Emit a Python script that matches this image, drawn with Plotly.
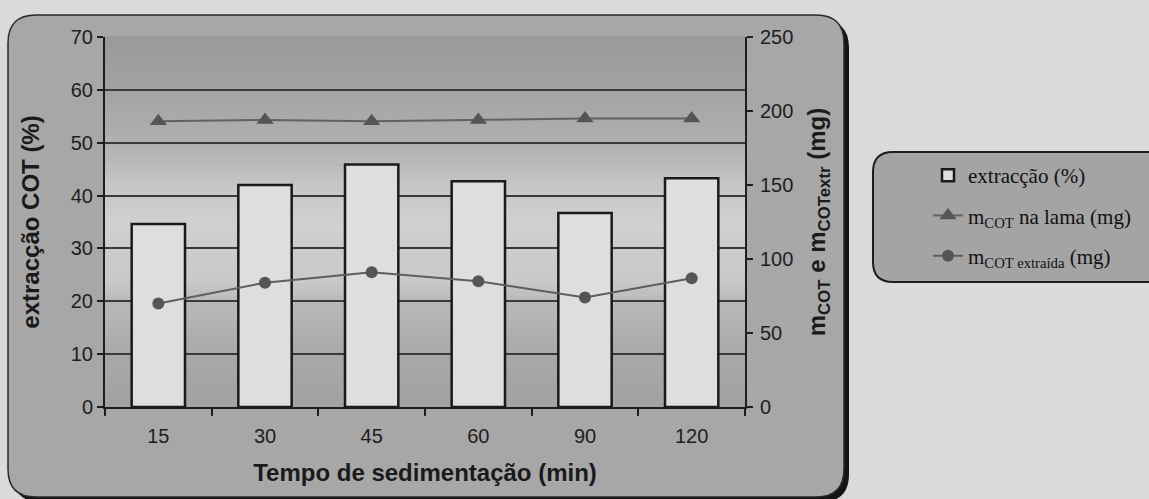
import plotly.graph_objects as go

# Sedimentation time categories (min)
tempos = ["15", "30", "45", "60", "90", "120"]
# Extraction yield of TOC (%)
extraccao = [34.6, 42.0, 45.9, 42.7, 36.7, 43.3]
# TOC mass in the sludge (mg)
m_cot_lama = [193, 194, 193, 194, 195, 195]
# TOC mass extracted (mg)
m_cot_extraida = [70, 84, 91, 85, 74, 87]

W, H = 1149, 499
ML, MR, MT, MB = 105, 404, 37, 92
PW, PH = W - ML - MR, H - MT - MB


def px(x):
    return (x - ML) / PW


def py(y):
    return (H - MB - y) / PH


def rounded_path(x0, y0, x1, y1, r):
    rx, ry = r / PW, r / PH
    a0, a1 = px(x0), px(x1)
    b0, b1 = py(y0), py(y1)
    return (
        f"M{a0 + rx},{b0} L{a1 - rx},{b0} Q{a1},{b0} {a1},{b0 - ry} "
        f"L{a1},{b1 + ry} Q{a1},{b1} {a1 - rx},{b1} "
        f"L{a0 + rx},{b1} Q{a0},{b1} {a0},{b1 + ry} "
        f"L{a0},{b0 - ry} Q{a0},{b0} {a0 + rx},{b0} Z"
    )


def hexmix(c0, c1, t):
    return "#" + "".join(
        f"{round(int(c0[i:i + 2], 16) * (1 - t) + int(c1[i:i + 2], 16) * t):02x}"
        for i in (1, 3, 5)
    )


shapes = []
# chart frame with dark drop shadow
shapes.append(dict(type="path", xref="paper", yref="paper", layer="below",
                   path=rounded_path(13, 20, 849, 502, 28),
                   fillcolor="#141414", line=dict(width=0)))
shapes.append(dict(type="path", xref="paper", yref="paper", layer="below",
                   path=rounded_path(8, 15, 844, 497, 28),
                   fillcolor="#a7a7a7", line=dict(color="#2a2a2a", width=1.5)))

# vertical gradient of the plotting area
stops = [(0.0, "#a2a2a2"), (0.14, "#a8a8a8"), (0.28, "#b8b8b8"),
         (0.34, "#c9c9c9"), (0.5, "#d0d0d0"), (0.6, "#c6c6c6"),
         (0.7, "#b2b2b2"), (0.85, "#a3a3a3"), (1.0, "#999999")]
N = 60
for i in range(N):
    t = (i + 0.5) / N
    for j in range(len(stops) - 1):
        if stops[j][0] <= t <= stops[j + 1][0]:
            f = (t - stops[j][0]) / (stops[j + 1][0] - stops[j][0])
            col = hexmix(stops[j][1], stops[j + 1][1], f)
            break
    shapes.append(dict(type="rect", xref="paper", yref="paper", layer="below",
                       x0=0, x1=1, y0=i / N, y1=(i + 1) / N + 0.002,
                       fillcolor=col, line=dict(width=0)))

# rounded legend box
shapes.append(dict(type="path", xref="paper", yref="paper", layer="below",
                   path=rounded_path(873, 152, 1175, 282, 20),
                   fillcolor="#a4a4a4", line=dict(color="#1e1e1e", width=2)))

fig = go.Figure()
fig.add_trace(go.Bar(
    x=tempos, y=extraccao, name="extracção (%)", width=0.5,
    marker=dict(color="#dedede", line=dict(color="#1a1a1a", width=2.5)),
    legendgroup="a", yaxis="y",
))
fig.add_trace(go.Scatter(
    x=tempos, y=m_cot_lama, name="m<sub>COT</sub> na lama (mg)", mode="lines+markers",
    line=dict(color="#626262", width=2),
    marker=dict(symbol="triangle-up", size=15, color="#555555"),
    legendgroup="b", yaxis="y2",
))
fig.add_trace(go.Scatter(
    x=tempos, y=m_cot_extraida, name="m<sub>COT extraída</sub> (mg)", mode="lines+markers",
    line=dict(color="#5e5e5e", width=2),
    marker=dict(symbol="circle", size=12, color="#555555"),
    legendgroup="c", yaxis="y2",
))

axis_font = dict(family="Liberation Sans, Arial, sans-serif", size=20, color="#1e1e1e")
title_font = dict(family="Liberation Sans, Arial, sans-serif", size=24, color="#1a1a1a", weight="bold")

fig.update_layout(
    width=W, height=H,
    margin=dict(l=ML, r=MR, t=MT, b=MB),
    paper_bgcolor="#dadada",
    plot_bgcolor="rgba(0,0,0,0)",
    shapes=shapes,
    bargap=0.5,
    showlegend=True,
    legend=dict(
        x=px(928), y=py(155), xanchor="left", yanchor="top",
        bgcolor="rgba(0,0,0,0)", borderwidth=0,
        font=dict(family="Liberation Serif, Times New Roman, serif", size=21, color="#111111"),
        traceorder="grouped", tracegroupgap=10,
    ),
    xaxis=dict(
        type="category", showline=True, linecolor="#1e1e1e", linewidth=2,
        ticks="outside", tickson="boundaries", ticklen=7, tickwidth=2, tickcolor="#1e1e1e",
        showgrid=False, tickfont=axis_font, ticklabelstandoff=10,
        title=dict(text="Tempo de sedimentação (min)", font=title_font, standoff=18),
    ),
    yaxis=dict(
        range=[0, 70], dtick=10, showgrid=True, gridcolor="#3a3a3a", gridwidth=1.5,
        showline=True, linecolor="#1e1e1e", linewidth=2, zeroline=False,
        ticks="outside", ticklen=6, tickwidth=2, tickcolor="#1e1e1e",
        tickfont=axis_font,
        title=dict(text="extracção COT (%)", font=title_font, standoff=24),
    ),
    yaxis2=dict(
        range=[0, 250], dtick=50, overlaying="y", side="right", showgrid=False,
        showline=True, linecolor="#1e1e1e", linewidth=2, zeroline=False,
        ticks="outside", ticklen=6, tickwidth=2, tickcolor="#1e1e1e",
        tickfont=axis_font, ticklabelstandoff=3,
        title=dict(text="m<sub>COT</sub> e m<sub>COTextr</sub> (mg)", font=title_font, standoff=16),
    ),
)

fig.write_html("out.html")
